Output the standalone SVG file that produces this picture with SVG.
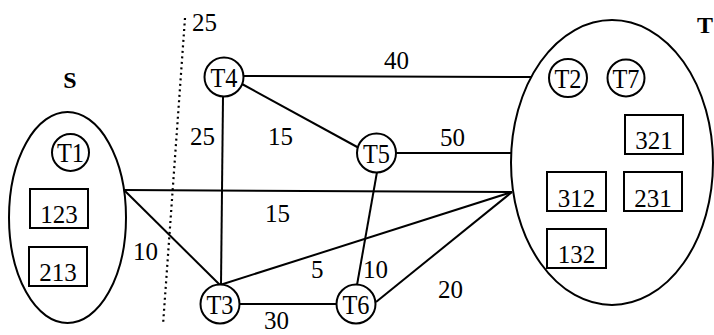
<svg xmlns="http://www.w3.org/2000/svg" width="714" height="335" viewBox="0 0 714 335" font-family="'Liberation Serif', 'DejaVu Serif', 'Times New Roman', Times, serif">
<style>
  text { font-family: "Liberation Serif", "DejaVu Serif", "Times New Roman", Times, serif; fill: #000; }
  .lbl { font-size: 25px; }
  .nd { font-size: 28px; text-anchor: middle; }
  .bx { font-size: 25px; text-anchor: middle; }
  .set { font-size: 24px; font-weight: bold; text-anchor: middle; }
  .shape { fill: #fff; stroke: #000; stroke-width: 2; }
  .grp { fill: none; stroke: #000; stroke-width: 2; }
  .edge { stroke: #000; stroke-width: 2; fill: none; }
  .cut { stroke: #000; stroke-width: 2.2; stroke-dasharray: 2 3.5; fill: none; }
</style>
<rect width="714" height="335" fill="#fff"/>

<g id="S">
  <ellipse class="grp" cx="67.5" cy="217.5" rx="58.5" ry="105.5"/>
  <text class="set" x="70" y="88">S</text>
</g>
<g id="T">
  <ellipse class="grp" cx="612" cy="162.5" rx="101" ry="142.5"/>
  <text class="set" x="705" y="33">T</text>
</g>

<g id="connectors">
  <line class="cut" x1="185" y1="18" x2="163" y2="325"/>
  <line class="edge" x1="244" y1="76" x2="531" y2="77"/>
  <line class="edge" x1="242" y1="84" x2="359" y2="148"/>
  <line class="edge" x1="395" y1="153" x2="511" y2="153"/>
  <line class="edge" x1="124" y1="190" x2="512" y2="192"/>
  <line class="edge" x1="124" y1="190" x2="220" y2="285"/>
  <line class="edge" x1="223" y1="97" x2="221" y2="285"/>
  <line class="edge" x1="220" y1="285" x2="512" y2="192"/>
  <line class="edge" x1="239" y1="304" x2="336" y2="304"/>
  <line class="edge" x1="377" y1="172" x2="357" y2="285"/>
  <line class="edge" x1="376" y1="302" x2="512" y2="192"/>
</g>

<g id="T1"><circle class="shape" cx="70.5" cy="152.5" r="18.5"/><text class="nd" x="70.5" y="162" textLength="27" lengthAdjust="spacingAndGlyphs">T1</text></g>
<g id="T2"><circle class="shape" cx="568" cy="78" r="19"/><text class="nd" x="568" y="87.5" textLength="27" lengthAdjust="spacingAndGlyphs">T2</text></g>
<g id="T7"><circle class="shape" cx="626" cy="78" r="18.5"/><text class="nd" x="626" y="87.5" textLength="27" lengthAdjust="spacingAndGlyphs">T7</text></g>
<g id="T3"><circle class="shape" cx="220" cy="304" r="19.5"/><text class="nd" x="220" y="313.5" textLength="27" lengthAdjust="spacingAndGlyphs">T3</text></g>
<g id="T4"><circle class="shape" cx="224" cy="77" r="19.5"/><text class="nd" x="224" y="86.5" textLength="27" lengthAdjust="spacingAndGlyphs">T4</text></g>
<g id="T5"><circle class="shape" cx="376.5" cy="153" r="19.5"/><text class="nd" x="376.5" y="162.5" textLength="27" lengthAdjust="spacingAndGlyphs">T5</text></g>
<g id="T6"><circle class="shape" cx="356" cy="304" r="19.5"/><text class="nd" x="356" y="313.5" textLength="27" lengthAdjust="spacingAndGlyphs">T6</text></g>

<g id="b123"><rect class="shape" x="30" y="189" width="58" height="39"/><text class="bx" x="59" y="223">123</text></g>
<g id="b213"><rect class="shape" x="29" y="247" width="58" height="39"/><text class="bx" x="58" y="281">213</text></g>
<g id="b321"><rect class="shape" x="625" y="115" width="58" height="39"/><text class="bx" x="654" y="149">321</text></g>
<g id="b312"><rect class="shape" x="547" y="172" width="59" height="39"/><text class="bx" x="576.5" y="207">312</text></g>
<g id="b231"><rect class="shape" x="624" y="172" width="58" height="39"/><text class="bx" x="653" y="207">231</text></g>
<g id="b132"><rect class="shape" x="547" y="229" width="59" height="39"/><text class="bx" x="576.5" y="263">132</text></g>

<g id="edge-labels" class="lbl">
  <text x="192" y="31">25</text>
  <text x="384" y="69">40</text>
  <text x="190" y="145">25</text>
  <text x="268" y="145">15</text>
  <text x="440" y="146">50</text>
  <text x="265" y="222">15</text>
  <text x="133" y="260">10</text>
  <text x="311" y="278">5</text>
  <text x="363" y="278">10</text>
  <text x="438" y="298">20</text>
  <text x="264" y="329">30</text>
</g>
</svg>
